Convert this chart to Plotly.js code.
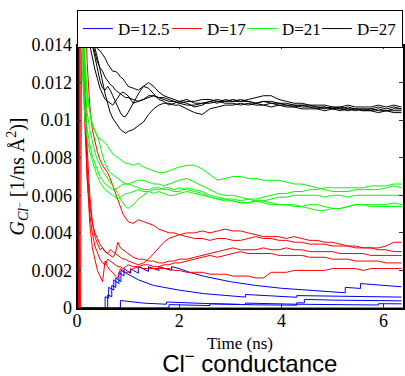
<!DOCTYPE html>
<html>
<head>
<meta charset="utf-8">
<script src="https://cdn.plot.ly/plotly-3.0.1.min.js"></script>
<style>html,body{margin:0;padding:0;background:#fff;}#chart{width:405px;height:376px;}</style>
</head>
<body>
<div id="chart"></div>
<script>
// ---- data ----
const seriesNames = ['D=12.5', 'D=17', 'D=21', 'D=27'];
const seriesColors = ['#0000ff', '#ff0000', '#00ff00', '#000000'];
const xTickVals = [0, 2, 4, 6];
const xTickText = ['0', '2', '4', '6'];
const yTickVals = [0, 0.002, 0.004, 0.006, 0.008, 0.01, 0.012, 0.014];
const yTickText = ['0', '0.002', '0.004', '0.006', '0.008', '0.01', '0.012', '0.014'];

// common time grid (ns) for the D=17, 21, 27 runs
const timeGrid = [0.01,0.03,0.05,0.07,
  0.10,0.15,0.20,0.25,0.30,0.35,0.40,0.45,0.50,0.55,0.60,0.65,0.70,0.75,0.80,0.85,0.90,0.95,1.00,
  1.1,1.2,1.3,1.4,1.5,1.6,1.7,1.8,1.9,2.0,
  2.15,2.3,2.45,2.6,2.75,2.9,3.05,3.2,3.35,3.5,3.65,3.8,3.95,4.1,4.25,4.4,4.55,4.7,4.85,5.0,5.15,5.3,5.45,5.6,5.75,5.9,6.05,6.2,6.35];

// D=27
const d27_run1 = [0,0.06,0.045,0.032,
  0.024,0.019,0.0165,0.0152,0.0144,0.0139,0.0133,0.0127,0.0120,0.0114,0.0109,0.0104,0.0101,0.0099,0.0097,0.0095,0.0094,0.0093,0.0094,
  0.0095,0.0097,0.0099,0.0103,0.0106,0.0108,0.0109,0.0109,0.0108,0.0108,
  0.0106,0.0104,0.0103,0.0106,0.0107,0.0108,0.0108,0.0109,0.0108,0.0109,0.0108,0.0107,0.0108,0.0107,0.0107,0.0106,0.0106,0.0106,0.0105,0.0106,0.0105,0.0106,0.0105,0.0106,0.0105,0.0106,0.0105,0.0106,0.0106];
const d27_run2 = [0,0.055,0.04,0.03,
  0.022,0.018,0.0158,0.0147,0.0140,0.0133,0.0127,0.0121,0.0117,0.0116,0.0118,0.0116,0.0113,0.0110,0.0107,0.0104,0.0102,0.0102,0.0104,
  0.0109,0.0114,0.0118,0.0117,0.0114,0.0111,0.0110,0.0108,0.0109,0.0110,
  0.0109,0.0107,0.0108,0.0110,0.0111,0.0110,0.0110,0.0111,0.0110,0.0109,0.0110,0.0109,0.0109,0.0108,0.0108,0.0107,0.0107,0.0106,0.0107,0.0106,0.0106,0.0105,0.0106,0.0105,0.0105,0.0104,0.0105,0.0104,0.0104];
const d27_run3 = [0,0.07,0.05,0.036,
  0.026,0.020,0.0168,0.0150,0.0142,0.0140,0.0138,0.0137,0.0135,0.0133,0.0130,0.0128,0.0126,0.0126,0.0125,0.0123,0.0122,0.0120,0.0118,
  0.0117,0.0116,0.0118,0.0120,0.0118,0.0115,0.0113,0.0112,0.0111,0.0110,
  0.0111,0.0109,0.0109,0.0110,0.0109,0.0111,0.0110,0.0110,0.0111,0.0112,0.0113,0.0113,0.0111,0.0110,0.0109,0.0109,0.0108,0.0108,0.0108,0.0107,0.0107,0.0108,0.0107,0.0107,0.0107,0.0108,0.0107,0.0108,0.0107];
const d27_run4 = [0,0.05,0.038,0.028,
  0.021,0.017,0.0155,0.0146,0.0141,0.0136,0.0131,0.0128,0.0126,0.0123,0.0121,0.0119,0.0118,0.0116,0.0115,0.0114,0.0113,0.0112,0.0112,
  0.0111,0.0110,0.0111,0.0113,0.0113,0.0112,0.0111,0.0110,0.0110,0.0109,
  0.0108,0.0108,0.0109,0.0109,0.0110,0.0109,0.0109,0.0108,0.0109,0.0108,0.0108,0.0109,0.0108,0.0108,0.0107,0.0108,0.0107,0.0107,0.0106,0.0107,0.0106,0.0107,0.0106,0.0106,0.0106,0.0107,0.0106,0.0107,0.0106];
const d27_run5 = [0,0.045,0.034,0.026,
  0.020,0.0165,0.0148,0.0140,0.0133,0.0127,0.0122,0.0117,0.0114,0.0111,0.0110,0.0109,0.0108,0.0110,0.0112,0.0114,0.0115,0.0114,0.0113,
  0.0109,0.0110,0.0111,0.0112,0.0113,0.0112,0.0112,0.0111,0.0110,0.0109,
  0.0110,0.0110,0.0111,0.0111,0.0110,0.0110,0.0111,0.0110,0.0110,0.0109,0.0110,0.0110,0.0109,0.0109,0.0108,0.0108,0.0108,0.0107,0.0107,0.0106,0.0107,0.0106,0.0106,0.0105,0.0106,0.0105,0.0105,0.0105,0.0105];

// D=21
const d21_run1 = [0.05,0.045,0.03,0.022,
  0.017,0.0135,0.0115,0.0105,0.0098,0.0094,0.0091,0.0090,0.0089,0.0088,0.0086,0.0084,0.0082,0.0081,0.0080,0.0079,0.0078,0.0077,0.0077,
  0.0076,0.0077,0.0075,0.0074,0.0073,0.0072,0.0072,0.0073,0.0074,0.0075,
  0.0076,0.0076,0.0074,0.0071,0.0068,0.0069,0.0070,0.0070,0.0069,0.0069,0.0068,0.0068,0.0068,0.0067,0.0066,0.0066,0.0065,0.0064,0.0063,0.0062,0.0062,0.0062,0.0063,0.0063,0.0063,0.0063,0.0064,0.0065,0.0064];
const d21_run2 = [0.045,0.04,0.028,0.020,
  0.016,0.0128,0.0112,0.0104,0.0097,0.0094,0.0092,0.0087,0.0081,0.0077,0.0074,0.0072,0.0071,0.0070,0.0069,0.0068,0.0067,0.0066,0.0066,
  0.0067,0.0068,0.0068,0.0067,0.0066,0.0066,0.0065,0.0066,0.0067,0.0068,
  0.0069,0.0067,0.0065,0.0063,0.0061,0.0060,0.0060,0.0059,0.0058,0.0058,0.0059,0.0060,0.0061,0.0061,0.0062,0.0062,0.0063,0.0063,0.0064,0.0064,0.0064,0.0064,0.0064,0.0064,0.0065,0.0065,0.0065,0.0066,0.0066];
const d21_run3 = [0.04,0.035,0.025,0.019,
  0.015,0.012,0.0104,0.0095,0.0088,0.0083,0.0079,0.0076,0.0073,0.0071,0.0069,0.0067,0.0065,0.0063,0.0061,0.0058,0.0056,0.0054,0.0053,
  0.0055,0.0058,0.0060,0.0062,0.0063,0.0063,0.0064,0.0064,0.0063,0.0064,
  0.0063,0.0062,0.0061,0.0059,0.0058,0.0057,0.0057,0.0056,0.0056,0.0057,0.0057,0.0058,0.0059,0.0059,0.0060,0.0060,0.0060,0.0060,0.0059,0.0060,0.0060,0.0059,0.0060,0.0060,0.0060,0.0060,0.0060,0.0060,0.0060];
const d21_run4 = [0.035,0.032,0.023,0.017,
  0.0138,0.011,0.0095,0.0087,0.0081,0.0077,0.0073,0.0070,0.0068,0.0066,0.0065,0.0064,0.0063,0.0063,0.0064,0.0065,0.0066,0.0066,0.0066,
  0.0065,0.0064,0.0063,0.0063,0.0064,0.0064,0.0063,0.0063,0.0062,0.0062,
  0.0064,0.0063,0.0062,0.0060,0.0059,0.0058,0.0058,0.0057,0.0058,0.0057,0.0056,0.0055,0.0055,0.0055,0.0055,0.0054,0.0053,0.0052,0.0052,0.0053,0.0053,0.0054,0.0055,0.0055,0.0055,0.0055,0.0055,0.0056,0.0055];
const d21_run5 = [0.03,0.028,0.021,0.016,
  0.0128,0.0102,0.0090,0.0083,0.0078,0.0074,0.0070,0.0067,0.0065,0.0063,0.0062,0.0061,0.0060,0.0059,0.0058,0.0059,0.0060,0.0061,0.0061,
  0.0062,0.0063,0.0062,0.0062,0.0061,0.0062,0.0061,0.0060,0.0060,0.0061,
  0.0062,0.0061,0.0060,0.0059,0.0058,0.0058,0.0057,0.0056,0.0056,0.0057,0.0057,0.0056,0.0055,0.0055,0.0054,0.0054,0.0055,0.0055,0.0054,0.0053,0.0053,0.0054,0.0055,0.0055,0.0054,0.0054,0.0054,0.0054,0.0054];

// D=17
const d17_run1 = [0,0,0,0.035,
  0.025,0.017,0.0130,0.0108,0.0095,0.0088,0.0083,0.0079,0.0076,0.0074,0.0072,0.0069,0.0065,0.0061,0.0057,0.0053,0.0050,0.0048,0.0046,
  0.0045,0.0047,0.0046,0.0045,0.0044,0.0042,0.0041,0.0040,0.0040,0.0039,
  0.0040,0.0040,0.0041,0.0040,0.0041,0.0042,0.0041,0.0041,0.0040,0.0039,0.0038,0.0038,0.0038,0.0037,0.0038,0.0037,0.0036,0.0036,0.0035,0.0035,0.0034,0.0033,0.0033,0.0032,0.0032,0.0031,0.0031,0.0030,0.0030];
const d17_run2 = [0,0,0.04,0.028,
  0.018,0.011,0.0075,0.0055,0.0045,0.0040,0.0037,0.0034,0.0032,0.0030,0.0029,0.0031,0.0030,0.0029,0.0028,0.0027,0.0026,0.0026,0.0025,
  0.0024,0.0023,0.0024,0.0026,0.0029,0.0032,0.0035,0.0037,0.0038,0.0039,
  0.0038,0.0037,0.0037,0.0036,0.0037,0.0037,0.0036,0.0036,0.0037,0.0038,0.0037,0.0037,0.0036,0.0036,0.0035,0.0035,0.0034,0.0034,0.0034,0.0033,0.0033,0.0033,0.0032,0.0032,0.0032,0.0032,0.0033,0.0035,0.0035];
const d17_run3 = [0,0,0,0.03,
  0.020,0.013,0.0085,0.0060,0.0046,0.0038,0.0034,0.0031,0.0032,0.0030,0.0029,0.0028,0.0027,0.0029,0.0035,0.0032,0.0031,0.0030,0.0029,
  0.0027,0.0026,0.0026,0.0025,0.0025,0.0024,0.0024,0.0025,0.0025,0.0026,
  0.0026,0.0027,0.0028,0.0029,0.0030,0.0031,0.0032,0.0031,0.0031,0.0031,0.0032,0.0031,0.0031,0.0032,0.0031,0.0031,0.0030,0.0030,0.0030,0.0030,0.0029,0.0029,0.0029,0.0029,0.0028,0.0028,0.0028,0.0028,0.0028];
const d17_run4 = [0,0,0.035,0.024,
  0.016,0.010,0.0068,0.0050,0.0040,0.0033,0.0029,0.0026,0.0024,0.0023,0.0026,0.0025,0.0024,0.0023,0.0022,0.0022,0.0021,0.0022,0.0023,
  0.0022,0.0022,0.0023,0.0023,0.0022,0.0022,0.0023,0.0023,0.0024,0.0024,
  0.0025,0.0026,0.0027,0.0028,0.0027,0.0028,0.0029,0.0030,0.0029,0.0029,0.0029,0.0029,0.0028,0.0028,0.0028,0.0028,0.0027,0.0027,0.0027,0.0026,0.0026,0.0026,0.0025,0.0025,0.0025,0.0025,0.0024,0.0024,0.0024];
const d17_run5 = [0,0,0,0,
  0.025,0.012,0.0070,0.0045,0.0032,0.0025,0.0020,0.0017,0.0014,0.0025,0.0022,0.0020,0.0019,0.0017,0.0016,0.0021,0.0020,0.0019,0.0019,
  0.0021,0.0022,0.0021,0.0021,0.0021,0.0021,0.0021,0.0021,0.0020,0.0020,
  0.0019,0.0019,0.0019,0.0018,0.0018,0.0018,0.0017,0.0017,0.0017,0.0016,0.0016,0.0019,0.0019,0.0019,0.0020,0.0020,0.0020,0.0020,0.0020,0.0021,0.0021,0.0021,0.0021,0.0020,0.0021,0.0021,0.0021,0.0021,0.0021];

// D=12.5 (step-like runs, own time points)
const d125_run1_t = [0,0.55,0.55,0.62,0.62,0.72,0.72,0.82,0.82,0.92,0.92,1.05,1.05,1.2,1.2,1.4,1.4,1.6,1.6,1.85,1.85,2.0,2.2,2.5,3.0,3.5,4.0,4.5,5.0,5.25,5.25,5.55,5.55,6.0,6.35];
const d125_run1_g = [0,0,0.0006,0.00053,0.0011,0.00095,0.0015,0.0013,0.0019,0.0017,0.0021,0.00185,0.0021,0.00185,0.0022,0.00195,0.0022,0.0020,0.0022,0.0020,0.0022,0.0021,0.0019,0.00168,0.0014,0.0012,0.00105,0.00094,0.00085,0.00081,0.0011,0.00104,0.0013,0.0012,0.00113];
const d125_run2_t = [0,0.6,0.6,0.68,0.68,0.76,0.76,0.86,0.86,1.0,1.2,1.5,2.0,2.5,3.0,3.3,3.3,3.8,4.3,4.3,5.0,5.7,6.35];
const d125_run2_g = [0,0,0.0007,0.0006,0.0012,0.0011,0.0016,0.0014,0.0020,0.0018,0.0015,0.0012,0.00095,0.00076,0.00063,0.00058,0.00072,0.00064,0.00057,0.00066,0.00062,0.00058,0.00058];
const d125_run3_t = [0,0.85,0.85,1.3,1.75,1.75,2.5,3.0,3.5,4.3,4.3,4.45,4.45,5.0,5.7,6.35];
const d125_run3_g = [0,0,0.0004,0.00026,0.0002,0.00032,0.00024,0.0002,0.00017,0.00015,0.00028,0.00027,0.00046,0.00042,0.00039,0.00038];
const d125_run4_t = [0,1.8,1.8,2.6,2.6,3.3,3.3,4.3,5.9,5.9,6.35];
const d125_run4_g = [0,0,0.00018,0.00013,0.00022,0.00018,0.00026,0.0002,0.00016,0.00023,0.00022];
const d125_run5_t = [0,6.38];
const d125_run5_g = [0,0];

// ---- traces ----
const groups = [
  {runs: [[d125_run1_t,d125_run1_g],[d125_run2_t,d125_run2_g],[d125_run3_t,d125_run3_g],[d125_run4_t,d125_run4_g],[d125_run5_t,d125_run5_g]], lw: 44},
  {runs: [[timeGrid,d17_run1],[timeGrid,d17_run2],[timeGrid,d17_run3],[timeGrid,d17_run4],[timeGrid,d17_run5]], lw: 30},
  {runs: [[timeGrid,d21_run1],[timeGrid,d21_run2],[timeGrid,d21_run3],[timeGrid,d21_run4],[timeGrid,d21_run5]], lw: 30},
  {runs: [[timeGrid,d27_run1],[timeGrid,d27_run2],[timeGrid,d27_run3],[timeGrid,d27_run4],[timeGrid,d27_run5]], lw: 40}
];
const traces = [];
groups.forEach((g, gi) => {
  g.runs.forEach((r, ri) => {
    traces.push({
      x: r[0], y: r[1], type: 'scatter', mode: 'lines',
      name: seriesNames[gi],
      showlegend: ri === 0, legendwidth: g.lw,
      line: {color: seriesColors[gi], width: 1}
    });
  });
});

const serif = 'Liberation Serif, Times New Roman, serif';
const layout = {
  width: 405, height: 376,
  margin: {l: 77, r: 2, t: 45, b: 68},
  paper_bgcolor: '#ffffff', plot_bgcolor: '#ffffff',
  showlegend: true,
  legend: {orientation: 'h', x: -0.0001, y: 1.133, xanchor: 'left', yanchor: 'top',
    bordercolor: '#000000', borderwidth: 1, bgcolor: '#ffffff',
    font: {family: serif, size: 17, color: '#000000'}, itemwidth: 30},
  title: {text: 'Cl<sup>−</sup> conductance', font: {family: 'Liberation Sans, Arial, sans-serif', size: 24, color: '#000000'},
    xref: 'paper', x: 0.53, xanchor: 'center', yref: 'container', y: 0.032, yanchor: 'middle'},
  xaxis: {range: [0, 6.38], tickvals: xTickVals, ticktext: xTickText, ticks: 'inside', ticklen: 4, tickwidth: 1, tickcolor: '#333',
    showline: true, linecolor: '#000000', linewidth: 1.5, mirror: 'ticks', showgrid: false, zeroline: false,
    ticklabelstandoff: -4,
    tickfont: {family: serif, size: 18, color: '#000000'},
    title: {text: 'Time (ns)', font: {family: serif, size: 17, color: '#000000'}, standoff: 7}},
  yaxis: {range: [0, 0.014], tickvals: yTickVals, ticktext: yTickText, ticks: 'inside', ticklen: 4, tickwidth: 1, tickcolor: '#333',
    showline: true, linecolor: '#000000', linewidth: 1.5, mirror: 'ticks', showgrid: false, zeroline: false,
    tickfont: {family: serif, size: 18, color: '#000000'},
    title: {text: '<i>G</i><sub><i>Cl</i><sup>−</sup></sub> [1/ns Å<sup>2</sup>)]', font: {family: serif, size: 20, color: '#000000'}, standoff: 0}}
};
Plotly.newPlot('chart', traces, layout, {displayModeBar: false, staticPlot: true});
</script>
</body>
</html>
